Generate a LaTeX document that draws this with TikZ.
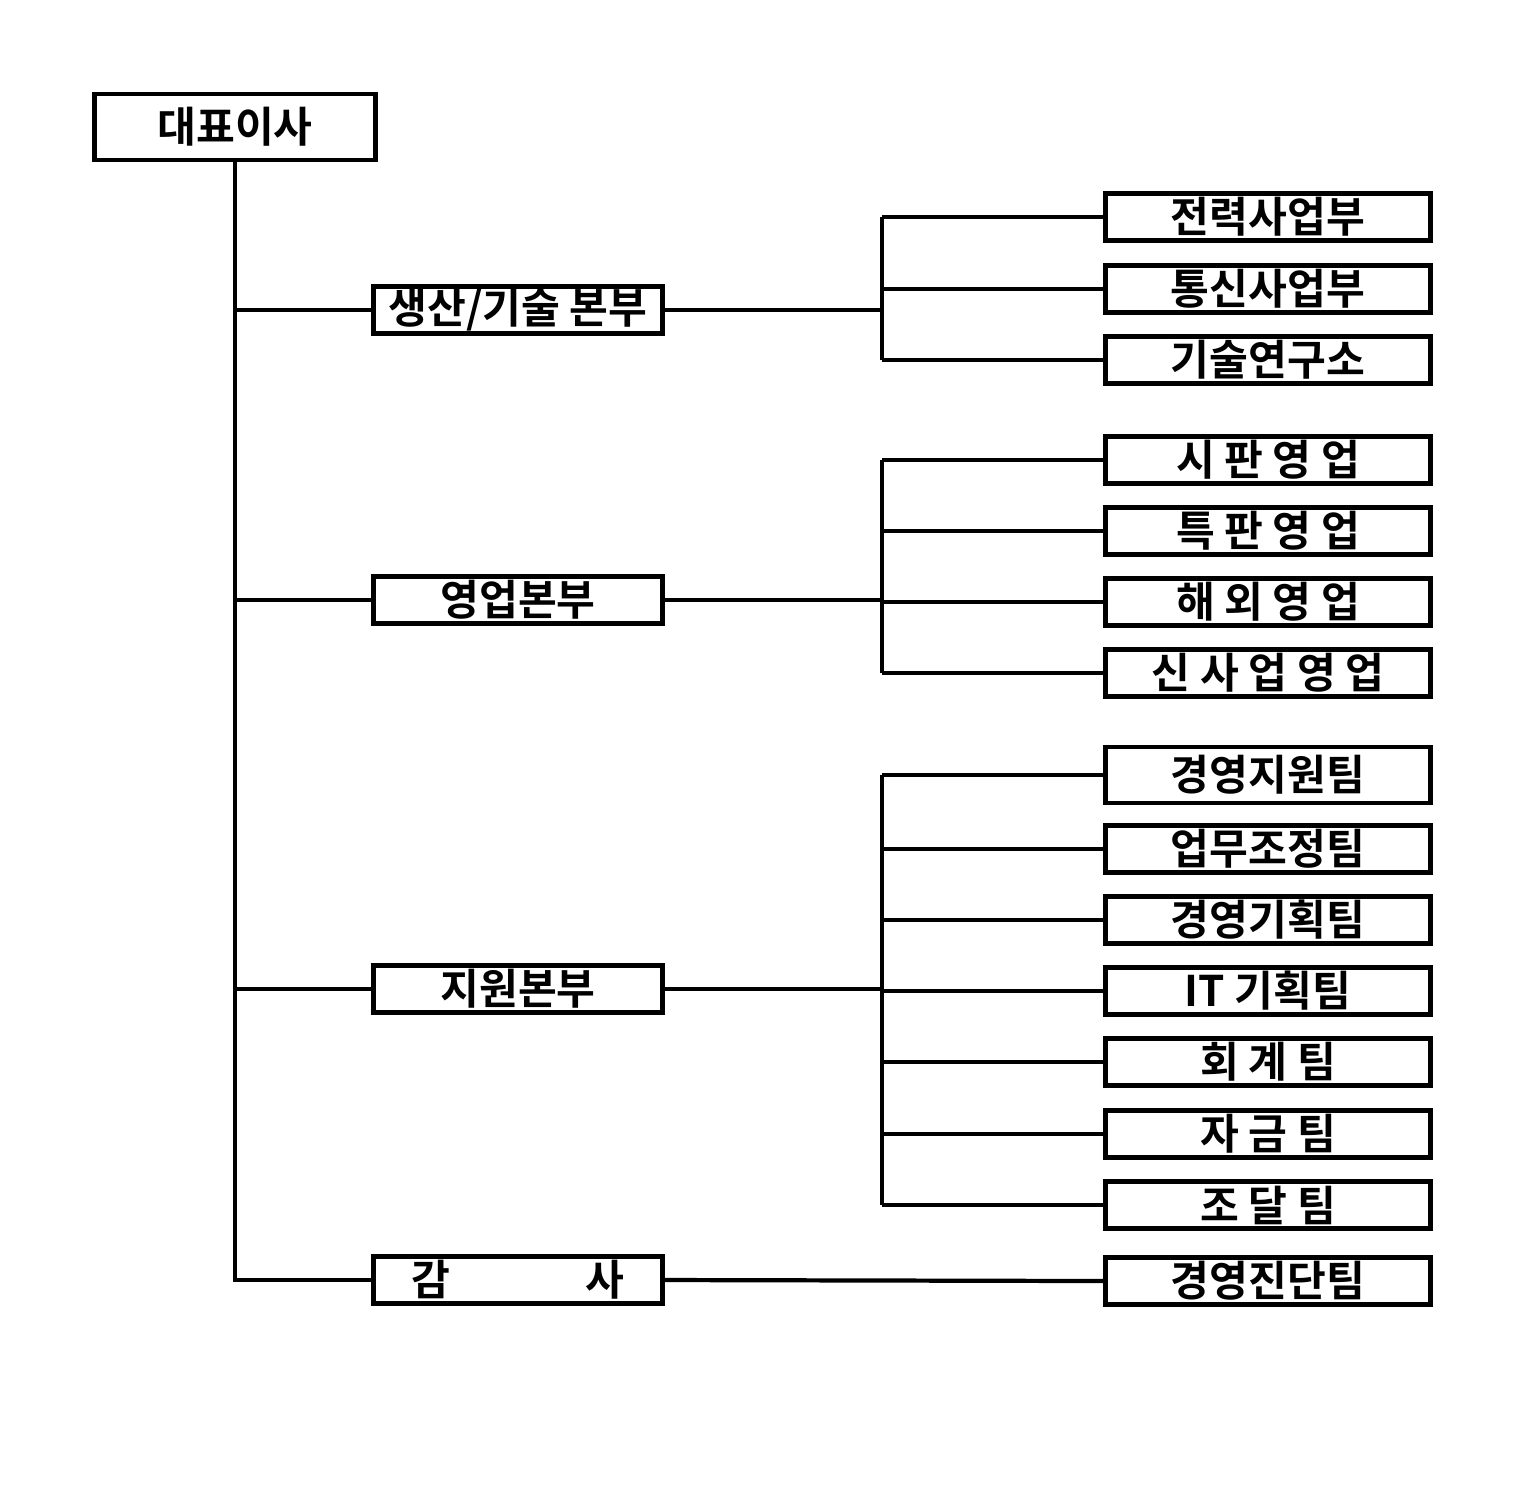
\documentclass[tikz,border=0pt]{standalone}
\usepackage{fontspec}
\setmainfont{Noto Sans CJK KR}[BoldFont={* Bold}]
\usetikzlibrary{positioning}
\tikzset{
  box/.style = {draw, line width=1.3pt, minimum height=0.47cm, inner sep=0pt, font=\bfseries\fontsize{12}{14}\selectfont},
  mid/.style = {box, minimum width=2.89cm},
  team/.style = {box, minimum width=3.25cm},
  link/.style = {line width=1.2pt}
}
\begin{document}
\begin{tikzpicture}[x=0.01cm, y=-0.01cm]
\useasboundingbox (0,0) rectangle (1519,1496);

\node[box, minimum width=2.81cm, minimum height=0.66cm] (ceo) at (235,127) {대표이사};

\node[mid] (prod) at (518,310) {생산/기술 본부};
\node[mid] (sales) at (518,600) {영업본부};
\node[mid] (supp) at (518,989) {지원본부};
\node[mid] (audit) at (518,1280) {감\hspace{3.2em}사};

\node[team] (t1) at (1268,217) {전력사업부};
\node[team] (t2) at (1268,289) {통신사업부};
\node[team] (t3) at (1268,360) {기술연구소};
\node[team] (s1) at (1268,460) {시 판 영 업};
\node[team] (s2) at (1268,531) {특 판 영 업};
\node[team] (s3) at (1268,602) {해 외 영 업};
\node[team] (s4) at (1268,673) {신 사 업 영 업};
\node[team, minimum height=0.56cm] (g1) at (1268,775) {경영지원팀};
\node[team] (g2) at (1268,849) {업무조정팀};
\node[team] (g3) at (1268,920) {경영기획팀};
\node[team] (g4) at (1268,991) {IT 기획팀};
\node[team] (g5) at (1268,1062) {회 계 팀};
\node[team] (g6) at (1268,1134) {자 금 팀};
\node[team] (g7) at (1268,1205) {조 달 팀};
\node[team] (a1) at (1268,1281) {경영진단팀};

% trunk
\coordinate (trunk) at (235,1280);
\draw[link] (ceo.south) -- (trunk) -- (audit.west);
\foreach \n in {prod, sales, supp}
  \draw[link] (ceo.south |- \n.west) -- (\n.west);

% buses
\coordinate (bp) at (882,217);
\coordinate (bs) at (882,460);
\coordinate (bg) at (882,775);
\draw[link] (prod.east) -- (bp |- prod.east);
\draw[link] (bp) -- (bp |- t3.west);
\foreach \n in {t1, t2, t3}
  \draw[link] (bp |- \n.west) -- (\n.west);
\draw[link] (sales.east) -- (bs |- sales.east);
\draw[link] (bs) -- (bs |- s4.west);
\foreach \n in {s1, s2, s3, s4}
  \draw[link] (bs |- \n.west) -- (\n.west);
\draw[link] (supp.east) -- (bg |- supp.east);
\draw[link] (bg) -- (bg |- g7.west);
\foreach \n in {g1, g2, g3, g4, g5, g6, g7}
  \draw[link] (bg |- \n.west) -- (\n.west);
\draw[link] (audit.east) -- (a1.west);
\end{tikzpicture}
\end{document}
